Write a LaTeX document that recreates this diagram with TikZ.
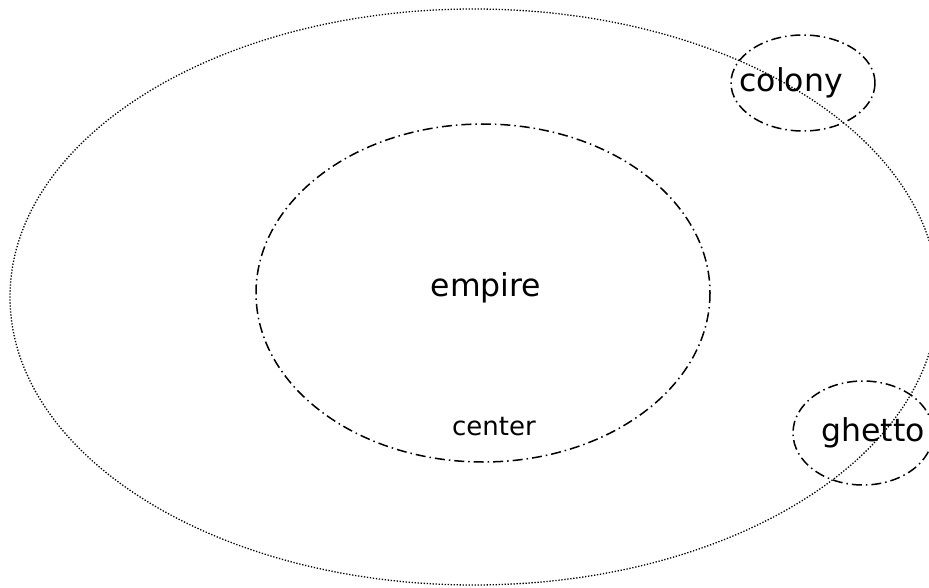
\documentclass[tikz,border=0pt]{standalone}
\usepackage{fontspec}
\setmainfont{DejaVu Sans}
\begin{document}
\begin{tikzpicture}[x=1pt,y=-1pt,
  outerline/.style={line width=1.3pt, dash pattern=on 1.3pt off 1.7pt},
  dashdot/.style={line width=1.5pt, dash pattern=on 10pt off 4pt on 1.5pt off 4pt},
  biglabel/.style={inner sep=0pt, font=\fontsize{31.5}{34}\selectfont},
  smalllabel/.style={inner sep=0pt, font=\fontsize{26}{29}\selectfont}]
\useasboundingbox (0,0) rectangle (929,588);
\clip (0,0) rectangle (929,588);
\draw[outerline] (474,297) ellipse [x radius=464, y radius=288];
\draw[dashdot] (483,293) ellipse [x radius=227, y radius=169];
\draw[dashdot] (803,83) ellipse [x radius=72, y radius=48];
\draw[dashdot] (863,433) ellipse [x radius=70, y radius=52];
\node[biglabel] (empire) at (486,288) {empire};
\node[smalllabel] (center) at (494,427) {center};
\node[biglabel] (colony) at (791,83) {colony};
\node[biglabel] (ghetto) at (873,433) {ghetto};
\end{tikzpicture}
\end{document}
